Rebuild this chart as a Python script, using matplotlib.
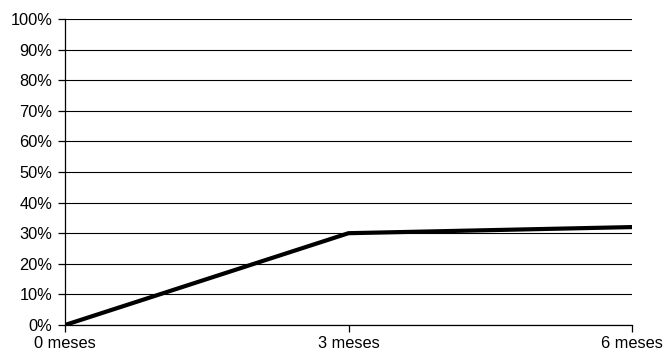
import matplotlib
matplotlib.use("Agg")
import matplotlib.pyplot as plt
from matplotlib.ticker import FuncFormatter

plt.rcParams["font.family"] = ["Liberation Sans", "DejaVu Sans"]

# Series data
periodos = ["0 meses", "3 meses", "6 meses"]
porcentaje = [0, 30, 32]
y_ticks = list(range(0, 101, 10))

fig = plt.figure(figsize=(6.64, 3.54), dpi=100)
ax = fig.add_axes([65 / 664, 29 / 354, 567 / 664, 306 / 354])

x = list(range(len(periodos)))
ax.plot(x, porcentaje, color="black", lw=3, solid_capstyle="round", zorder=3)

ax.set_xlim(0, len(periodos) - 1)
ax.set_ylim(0, 100)
ax.set_yticks(y_ticks)
ax.yaxis.set_major_formatter(FuncFormatter(lambda v, _: f"{v:.0f}%"))
ax.set_xticks(x)
ax.set_xticklabels(periodos)

ax.grid(axis="y", color="black", lw=0.8)
for side in ["top", "right"]:
    ax.spines[side].set_visible(False)
ax.spines["left"].set_linewidth(0.9)
ax.spines["bottom"].set_linewidth(0.9)
ax.tick_params(axis="both", length=5, width=0.9, labelsize=11.8, colors="black")
ax.tick_params(axis="x", pad=3)
ax.tick_params(axis="y", pad=4)

fig.savefig("out.png", dpi=100)
